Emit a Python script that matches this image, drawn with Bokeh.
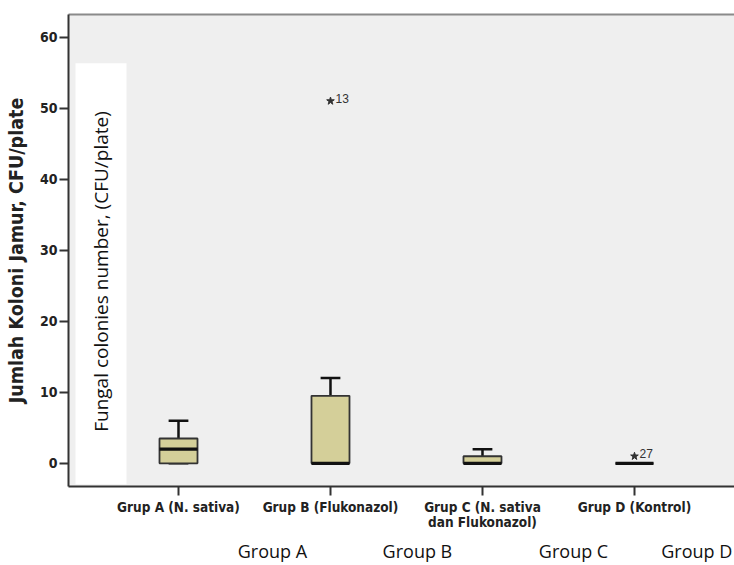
import numpy as np
from bokeh.plotting import figure
from bokeh.models import FixedTicker, Label, ColumnDataSource, LinearAxis
from bokeh.core.properties import value
from bokeh.embed import file_html
from bokeh.resources import INLINE

# ---- data ----
groups = ["Grup A (N. sativa)", "Grup B (Flukonazol)", "Grup C (N. sativa\ndan Flukonazol)", "Grup D (Kontrol)"]
group_pos = [1, 2, 3, 4]
q1 = [0, 0, 0, 0]
median = [2, 0, 0, 0]
q3 = [3.5, 9.5, 1, 0]
lower = [0, 0, 0, 0]
upper = [6, 12, 2, 0]
out_x = [2, 4]
out_y = [51, 1]
out_lab = ["13", "27"]
y_ticks = [0, 10, 20, 30, 40, 50, 60]
overlay_title = "Fungal colonies number, (CFU/plate)"
bottom_labels = ["Group A", "Group B", "Group C", "Group D"]
bottom_label_pos = [1.618, 2.572, 3.599, 4.41]

BOXW = 0.25
CAPW = 0.13
NARROW = "'DejaVu Sans Condensed', 'Liberation Sans', sans-serif"

p = figure(width=734, height=565, output_backend="svg", toolbar_location=None,
           x_range=(0.2763, 4.658), y_range=(-3.26, 63.18),
           min_border_left=68, min_border_top=14, min_border_bottom=77, min_border_right=0)
p.background_fill_color = "#efefef"
p.border_fill_color = "white"
p.outline_line_color = None
p.xgrid.visible = False
p.ygrid.visible = False

xax = p.below[0]
yax = p.left[0]

# axes
xax.ticker = FixedTicker(ticks=group_pos)
xax.major_label_overrides = {g: lab for g, lab in zip(group_pos, groups)}
yax.ticker = FixedTicker(ticks=y_ticks)
for ax in (xax, yax):
    ax.axis_line_color = "#333333"
    ax.axis_line_width = 2
    ax.major_tick_line_color = "#333333"
    ax.major_tick_line_width = 2
    ax.major_tick_out = 9
    ax.major_tick_in = 0
    ax.minor_tick_line_color = None
    ax.major_label_text_font = NARROW
    ax.major_label_text_font_style = "bold"
    ax.major_label_text_color = "#222222"
xax.major_label_text_font_size = "13.5px"
xax.major_label_text_line_height = 0.95
yax.major_label_text_font_size = "14px"
xax.major_label_standoff = 3
yax.major_label_standoff = 2
yax.axis_label = "Jumlah Koloni Jamur, CFU/plate"
yax.axis_label_text_font = NARROW
yax.axis_label_text_font_style = "bold"
yax.axis_label_text_font_size = "19.5px"
yax.axis_label_text_color = "#222222"
yax.axis_label_standoff = 9

# top frame line
top_axis = LinearAxis(ticker=FixedTicker(ticks=[]), axis_line_color="#8a8a8a", axis_line_width=2,
                      major_tick_line_color=None, minor_tick_line_color=None,
                      major_label_text_font_size="0px", major_label_standoff=0)
p.add_layout(top_axis, "above")

# English group captions under the axis (a second, line-less axis)
cap_axis = LinearAxis(ticker=FixedTicker(ticks=bottom_label_pos),
                      major_label_overrides={v: t for v, t in zip(bottom_label_pos, bottom_labels)},
                      axis_line_color=None, major_tick_line_color=None, minor_tick_line_color=None,
                      major_tick_out=0, major_tick_in=0, major_label_standoff=6,
                      major_label_text_font="Open Sans", major_label_text_font_size="18px",
                      major_label_text_color="#111111")
p.add_layout(cap_axis, "below")

# white overlay panel and its text
p.quad(left=[0.3224], right=[0.6579], bottom=[-2.94], top=[56.32],
       fill_color="white", line_color=None)
p.text(x=[0.487], y=[27.0], text=[overlay_title], angle=np.pi / 2,
       text_align="center", text_baseline="middle",
       text_font=value("Open Sans"), text_font_size="19px", text_color="#111111")

# boxes
src = ColumnDataSource(dict(x=group_pos, q1=q1, med=median, q3=q3, lo=lower, up=upper))
p.segment(x0="x", y0="q3", x1="x", y1="up", source=src, line_color="#111111", line_width=2.5)
p.segment(x0="x", y0="lo", x1="x", y1="q1", source=src, line_color="#111111", line_width=2.5)
cap_x0 = [x - CAPW / 2 for x in group_pos]
cap_x1 = [x + CAPW / 2 for x in group_pos]
p.segment(x0=cap_x0, y0=upper, x1=cap_x1, y1=upper, line_color="#111111", line_width=2.5)
p.segment(x0=cap_x0, y0=lower, x1=cap_x1, y1=lower, line_color="#111111", line_width=2.5)
p.vbar(x="x", width=BOXW, bottom="q1", top="q3", source=src,
       fill_color="#d4cf99", line_color="#333333", line_width=1.8)
box_x0 = [x - BOXW / 2 for x in group_pos]
box_x1 = [x + BOXW / 2 for x in group_pos]
p.segment(x0=box_x0, y0=median, x1=box_x1, y1=median, line_color="#111111", line_width=3.2)

# outliers
p.scatter(x=out_x, y=out_y, marker="star", size=8, fill_color="#333333", line_color="#333333")
for xx, yy, lab in zip(out_x, out_y, out_lab):
    p.add_layout(Label(x=xx, y=yy, text=lab, x_offset=5, y_offset=3,
                       text_baseline="alphabetic", text_font="Liberation Sans",
                       text_font_size="12px", text_color="#333333"))

open("out.html", "w").write(file_html(p, INLINE))
